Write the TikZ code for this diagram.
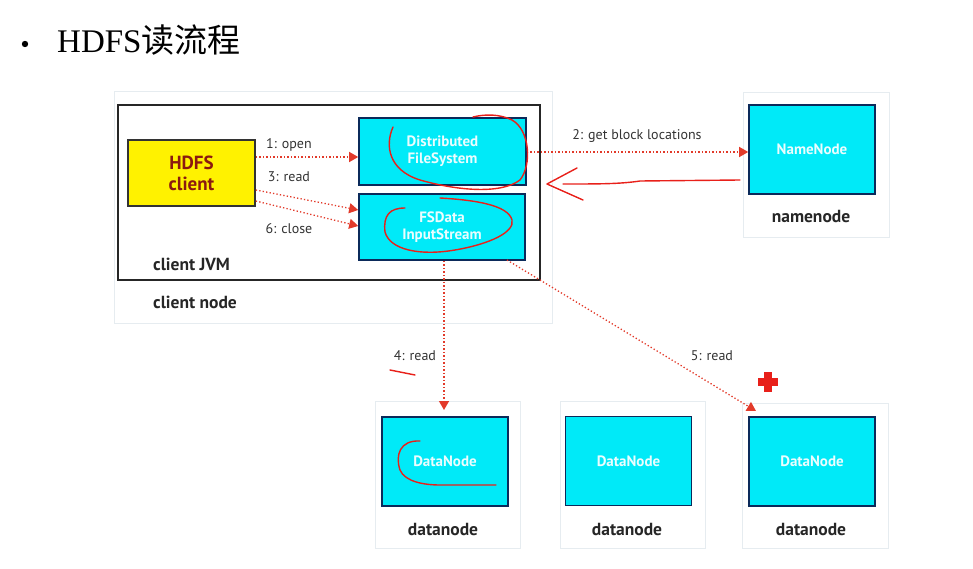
\documentclass[tikz,border=0pt]{standalone}
\usepackage{fontspec}
\setmainfont{Liberation Serif}
\newfontfamily\cjk{Noto Sans CJK SC}
\newfontfamily\diag{PT Sans}
\usetikzlibrary{arrows.meta}
\definecolor{cyanfill}{HTML}{00EAF8}
\definecolor{navy}{HTML}{0B2A5A}
\definecolor{ylw}{HTML}{FFF200}
\definecolor{darkred}{HTML}{8B1A10}
\definecolor{arr}{HTML}{E23A2A}
\definecolor{anno}{HTML}{E8201A}
\definecolor{lbl}{HTML}{333333}
\definecolor{faint}{HTML}{E6ECF0}
\begin{document}
\begin{tikzpicture}[x=1pt,y=-1pt,
  cyanbox/.style={draw=navy,line width=1.6pt,fill=cyanfill,minimum width=126pt,minimum height=89pt,
     text=white!92!cyanfill,font=\diag\bfseries\fontsize{15}{17}\selectfont,align=center,inner sep=0pt},
  outerbox/.style={draw=faint,line width=1pt},
  darrow/.style={draw=arr,line width=1.3pt,dash pattern=on 1.3pt off 2.2pt,
     -{Triangle[length=9pt,width=10pt]}},
  elbl/.style={font=\diag\fontsize{14}{16}\selectfont,text=lbl,inner sep=1pt},
  blbl/.style={font=\diag\bfseries\fontsize{17.5}{20}\selectfont,text=black!85,inner sep=0pt},
  annot/.style={draw=anno,line width=1.4pt,line cap=round,line join=round}]
\useasboundingbox (0,0) rectangle (973,569);
% title
\fill (25,44) circle (3.2pt);
\node[anchor=base west,inner sep=0pt,font=\fontsize{33}{37}\selectfont] (title) at (57,53) {HDFS{\cjk 读流程}};
% outer boxes
\draw[outerbox] (114,92) rectangle (552,323);
\draw[outerbox] (743,93) rectangle (889,237);
\draw[outerbox] (375,401) rectangle (520,548);
\draw[outerbox] (560,401) rectangle (705,548);
\draw[outerbox] (742,403) rectangle (888,548);
% client JVM
\draw[line width=1.8pt,draw=black!85] (118,105) rectangle (540,280);
\node[blbl,anchor=west] (jvm) at (153,264) {client JVM};
\node[blbl,anchor=west] (cnode) at (153,302) {client node};
% HDFS client
\node[draw=black!80,line width=1.6pt,fill=ylw,minimum width=127pt,minimum height=66pt,align=center,
   font=\diag\bfseries\fontsize{19}{21}\selectfont,text=darkred] (client) at (191.5,173) {HDFS\\client};
\node[cyanbox,minimum width=167pt,minimum height=67pt] (dfs) at (442.5,151.5) {Distributed\\FileSystem};
\node[cyanbox,minimum width=166pt,minimum height=66pt] (fsd) at (442,227) {FSData\\InputStream};
\node[cyanbox] (nn) at (812,149.5) {NameNode};
\node[blbl] (nnl) at (811,216) {namenode};
\node[cyanbox] (dn1) at (445,461.5) {DataNode};
\node[cyanbox] (dn2) at (628.5,461) {DataNode};
\node[cyanbox] (dn3) at (812,461.5) {DataNode};
\node[blbl] (dl1) at (443,529) {datanode};
\node[blbl] (dl2) at (627,529) {datanode};
\node[blbl] (dl3) at (811,529) {datanode};
% connectors
\draw[darrow] (client.east |- 0,157) -- (dfs.west |- 0,157);
\draw[darrow] (client.east |- 0,190) -- (fsd.west |- 0,210);
\draw[darrow] (client.east |- 0,201) -- (fsd.west |- 0,226);
\draw[darrow] (dfs.east |- 0,152) -- (nn.west |- 0,152);
\coordinate (d1t) at (444,410);
\draw[darrow] (fsd.south -| d1t) -- (d1t);
\coordinate (d3t) at (756,411);
\draw[darrow] (507,260) -- (d3t);
\node[elbl] (l1) at (289,145) {1: open};
\node[elbl] (l3) at (289,177) {3: read};
\node[elbl] (l6) at (289,229) {6: close};
\node[elbl] (l2) at (637,136) {2: get block locations};
\node[elbl] (l4) at (415,356) {4: read};
\node[elbl] (l5) at (712,356) {5: read};
% red annotations
\draw[annot] (393,127) .. controls (385,145) and (388,170) .. (420,180)
  .. controls (455,190) and (500,195) .. (520,180)
  .. controls (532,165) and (530,130) .. (512,120)
  .. controls (500,114) and (485,114) .. (473,117);
\draw[annot] (405,208) .. controls (390,208) and (383,215) .. (385,232)
  .. controls (390,250) and (420,256) .. (455,250)
  .. controls (490,244) and (515,232) .. (512,220)
  .. controls (508,205) and (475,200) .. (440,198);
\draw[annot] (420,441) .. controls (400,440) and (395,455) .. (400,470)
  .. controls (405,482) and (425,485) .. (440,485) -- (496,485);
\draw[annot] (740,180) -- (640,181) .. controls (620,184) and (600,184) .. (563,184);
\draw[annot] (577,168) -- (547,184) -- (583,200);
\draw[annot] (390,370) -- (415,375);
\fill[anno] (764,372) rectangle (772,392);
\fill[anno] (758,378) rectangle (778,386);
\end{tikzpicture}
\end{document}
